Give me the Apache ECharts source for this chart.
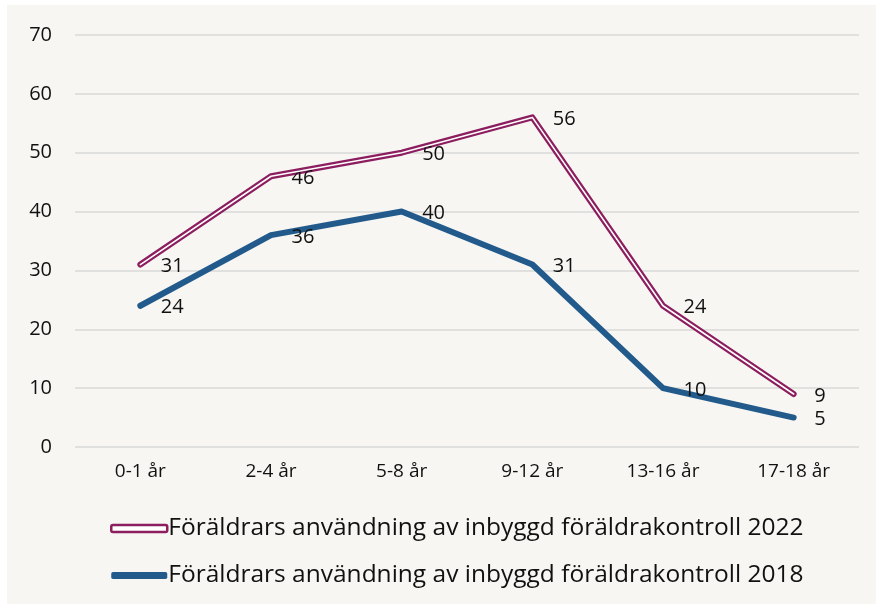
<!DOCTYPE html>
<html>
<head>
<meta charset="utf-8">
<script src="https://cdn.jsdelivr.net/npm/echarts@6/dist/echarts.min.js"></script>
<style>
  html,body{margin:0;padding:0;background:#fff;}
  #chart{position:absolute;left:7px;top:5px;width:869px;height:599px;background:#f7f6f3;}
</style>
</head>
<body>
<div id="chart"></div>
<script>
// kategorier och värden
let ages=['0-1 år','2-4 år','5-8 år','9-12 år','13-16 år','17-18 år']
let data2022=[31,46,50,56,24,9]
let data2018=[24,36,40,31,10,5]
let name2022='Föräldrars användning av inbyggd föräldrakontroll 2022'
let name2018='Föräldrars användning av inbyggd föräldrakontroll 2018'

let purple='#8c1d5e'
let blue='#215a8b'
let font='Open Sans'

let myChart=echarts.init(document.getElementById('chart'))
let labelStyle={
  show:true,
  position:'right',
  distance:20,
  offset:[0,2],
  color:'#111',
  fontFamily:font,
  fontSize:20
}
let options={
  animation:false,
  grid:{left:68,right:17,top:30,bottom:157},
  legend:{
    orient:'vertical',
    left:103,
    top:511,
    padding:0,
    itemGap:22,
    itemWidth:56,
    itemHeight:7,
    textStyle:{color:'#111',fontFamily:font,fontSize:24.5,padding:[0,0,0,-4]},
    data:[
      {name:name2022,icon:'roundRect',itemStyle:{color:'#fff',borderColor:purple,borderWidth:2.5}},
      {name:name2018,icon:'roundRect',itemStyle:{color:blue,borderWidth:0}}
    ]
  },
  xAxis:{
    type:'category',
    data:ages,
    boundaryGap:true,
    axisLine:{show:false},
    axisTick:{show:false},
    axisLabel:{color:'#111',fontFamily:font,fontSize:19,margin:15}
  },
  yAxis:{
    type:'value',
    min:0,
    max:70,
    interval:10,
    axisLine:{show:false},
    axisTick:{show:false},
    axisLabel:{color:'#111',fontFamily:font,fontSize:20,margin:23},
    splitLine:{lineStyle:{color:'#d9d9d9',width:1.5}}
  },
  series:[
    {
      name:name2018,
      type:'line',
      data:data2018,
      symbol:'circle',
      symbolSize:1,
      lineStyle:{color:blue,width:6,cap:'round',join:'round'},
      itemStyle:{color:blue},
      label:labelStyle,
      z:2
    },
    {
      name:name2022,
      type:'line',
      data:data2022,
      symbol:'circle',
      symbolSize:1,
      lineStyle:{color:purple,width:6,cap:'round',join:'round'},
      itemStyle:{color:purple},
      label:labelStyle,
      z:3
    },
    {
      name:'inner2022',
      type:'line',
      data:data2022,
      showSymbol:false,
      symbol:'none',
      silent:true,
      lineStyle:{color:'#ffffff',width:1.6,cap:'round',join:'round'},
      z:4
    }
  ]
}
myChart.setOption(options)
</script>
</body>
</html>
